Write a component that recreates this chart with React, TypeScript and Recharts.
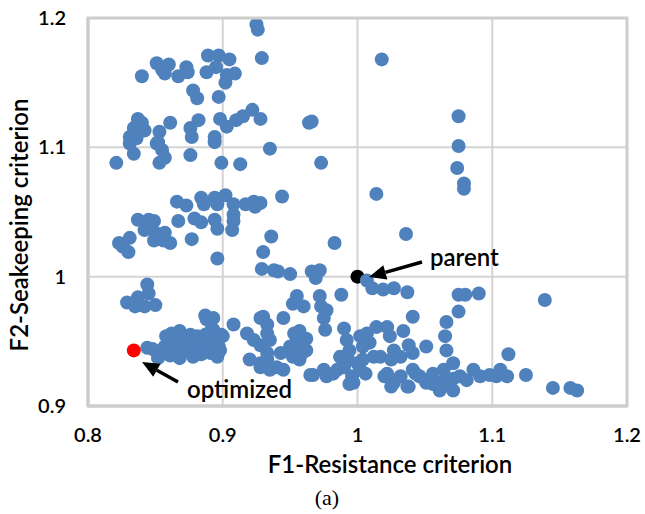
import React from 'react';
import { ScatterChart, Scatter, XAxis, YAxis, CartesianGrid } from 'recharts';

// [F1, F2] pairs, grouped by region
const upperSolutions = [
  [0.925, 1.195], [0.926, 1.191], [0.929, 1.169], [1.018, 1.168],
  [0.840, 1.155], [0.851, 1.165], [0.855, 1.160], [0.860, 1.164], [0.857, 1.157], [0.867, 1.155],
  [0.873, 1.162], [0.874, 1.158], [0.888, 1.158], [0.889, 1.171], [0.897, 1.171], [0.895, 1.162],
  [0.905, 1.168], [0.903, 1.156], [0.909, 1.157], [0.902, 1.150],
  [0.878, 1.144], [0.881, 1.138], [0.897, 1.139],
  [0.898, 1.122], [0.903, 1.116], [0.910, 1.121], [0.915, 1.124], [0.922, 1.129], [0.928, 1.122],
  [0.882, 1.121], [0.876, 1.115], [0.877, 1.108], [0.861, 1.119], [0.853, 1.112], [0.852, 1.104],
  [0.837, 1.122], [0.834, 1.115], [0.842, 1.113], [0.836, 1.107], [0.831, 1.108], [0.840, 1.119],
  [0.894, 1.108], [0.894, 1.104],
  [0.964, 1.119], [0.966, 1.120], [0.935, 1.099],
  [0.821, 1.088], [0.834, 1.095], [0.831, 1.103], [0.851, 1.103], [0.855, 1.098], [0.857, 1.092],
  [0.853, 1.088], [0.876, 1.094], [0.899, 1.088], [0.913, 1.087], [0.973, 1.088],
  [1.075, 1.124], [1.075, 1.101], [1.074, 1.084], [1.079, 1.072], [1.079, 1.068],
];

const middleSolutions = [
  [1.014, 1.064], [1.036, 1.033],
  [0.866, 1.058], [0.873, 1.055], [0.884, 1.061], [0.886, 1.056], [0.894, 1.061], [0.896, 1.056],
  [0.902, 1.063], [0.908, 1.056], [0.908, 1.048], [0.908, 1.043], [0.907, 1.036], [0.917, 1.056],
  [0.923, 1.058], [0.924, 1.054], [0.944, 1.062], [0.928, 1.057],
  [0.867, 1.043], [0.879, 1.045], [0.884, 1.042], [0.894, 1.044], [0.896, 1.037], [0.877, 1.029],
  [0.896, 1.014],
  [0.837, 1.044], [0.845, 1.044], [0.849, 1.043], [0.842, 1.036], [0.850, 1.034], [0.857, 1.034],
  [0.856, 1.028], [0.861, 1.026], [0.849, 1.028], [0.823, 1.026], [0.831, 1.030], [0.830, 1.019],
  [0.826, 1.023],
  [0.936, 1.031], [0.930, 1.019], [0.983, 1.026],
  [0.929, 1.006], [0.938, 1.005], [0.941, 1.004], [0.950, 1.002], [0.966, 1.004], [0.972, 1.005],
  [0.969, 0.999],
];

const lowerSolutions = [
  [1.007, 0.997], [1.011, 0.991], [1.019, 0.990], [1.027, 0.991], [1.037, 0.988],
  [1.075, 0.986], [1.080, 0.986], [1.090, 0.987], [1.139, 0.982],
  [0.844, 0.994], [0.845, 0.987], [0.837, 0.984], [0.829, 0.980], [0.835, 0.977], [0.850, 0.978],
  [0.842, 0.977],
  [0.955, 0.985], [0.952, 0.979], [0.960, 0.977], [0.972, 0.985], [0.973, 0.977], [0.977, 0.974],
  [0.988, 0.986], [0.975, 0.968], [0.976, 0.959], [0.990, 0.960], [0.945, 0.968], [0.930, 0.969],
  [1.041, 0.969], [1.075, 0.973], [1.066, 0.965], [1.065, 0.954], [1.066, 0.943], [1.071, 0.933],
  [1.112, 0.940], [1.051, 0.946], [1.034, 0.958],
  [0.887, 0.970], [0.893, 0.968], [0.888, 0.967], [0.908, 0.963], [0.928, 0.968], [0.933, 0.963],
];

const denseSolutions = [
  [0.844, 0.945], [0.851, 0.942], [0.852, 0.937], [0.857, 0.946], [0.858, 0.954], [0.862, 0.956],
  [0.866, 0.951], [0.868, 0.958], [0.871, 0.943], [0.873, 0.949], [0.876, 0.955], [0.878, 0.938],
  [0.881, 0.954], [0.882, 0.943], [0.886, 0.950], [0.888, 0.945], [0.891, 0.941], [0.893, 0.949],
  [0.896, 0.938], [0.898, 0.943], [0.899, 0.955], [0.891, 0.958], [0.868, 0.937], [0.861, 0.939],
  [0.893, 0.959], [0.900, 0.954],
  [0.848, 0.944], [0.855, 0.941], [0.864, 0.946], [0.870, 0.952], [0.875, 0.945], [0.880, 0.948],
  [0.884, 0.940], [0.887, 0.955], [0.890, 0.946], [0.895, 0.952], [0.897, 0.946], [0.865, 0.940],
  [0.918, 0.956], [0.923, 0.951], [0.928, 0.947], [0.920, 0.936], [0.928, 0.933], [0.933, 0.936],
  [0.933, 0.956], [0.935, 0.951], [0.933, 0.941], [0.943, 0.941], [0.940, 0.930], [0.945, 0.928],
  [0.928, 0.930], [0.935, 0.928], [0.952, 0.938], [0.957, 0.936], [0.960, 0.943], [0.962, 0.943],
  [0.955, 0.951], [0.962, 0.952], [0.957, 0.958], [0.950, 0.946], [0.953, 0.956], [0.956, 0.948],
  [0.959, 0.941],
];

const bottomSolutions = [
  [0.965, 0.924], [0.967, 0.924], [0.975, 0.928], [0.982, 0.925], [0.985, 0.928], [0.977, 0.923],
  [0.990, 0.930], [0.993, 0.936], [0.996, 0.923], [0.997, 0.918], [0.994, 0.917], [1.000, 0.933],
  [1.002, 0.928], [0.987, 0.938], [0.992, 0.951], [0.994, 0.943], [1.007, 0.956], [1.009, 0.949],
  [1.012, 0.938], [1.004, 0.936], [1.002, 0.954], [1.004, 0.946], [1.014, 0.961], [1.022, 0.961],
  [1.024, 0.954], [1.027, 0.943], [1.032, 0.938], [1.017, 0.938], [1.025, 0.936], [1.038, 0.947],
  [1.041, 0.941], [1.006, 0.925],
  [1.022, 0.925], [1.027, 0.918], [1.032, 0.923], [1.037, 0.915], [1.041, 0.928], [1.046, 0.923],
  [1.051, 0.918], [1.056, 0.925], [1.061, 0.918], [1.066, 0.920], [1.020, 0.923], [1.025, 0.915],
  [1.038, 0.915], [1.043, 0.925], [1.050, 0.920], [1.056, 0.917], [1.061, 0.912], [1.066, 0.916],
  [1.071, 0.912], [1.064, 0.928], [1.071, 0.921], [1.076, 0.923], [1.081, 0.920], [1.086, 0.928],
  [1.091, 0.923], [1.098, 0.924], [1.103, 0.923], [1.106, 0.928], [1.111, 0.923], [1.125, 0.924],
  [1.145, 0.914], [1.158, 0.914], [1.163, 0.912],
];

const parentDesign = [[1.0, 1.0]];
const optimizedDesign = [[0.834, 0.943]];

const f1Ticks = [0.8, 0.9, 1, 1.1, 1.2];
const f2Ticks = [0.9, 1, 1.1, 1.2];

const toPoints = (pairs: number[][]) => pairs.map(([f1, f2]) => ({ f1, f2 }));

const allSolutions = toPoints([
  ...upperSolutions, ...middleSolutions, ...lowerSolutions, ...denseSolutions, ...bottomSolutions,
]);

const FONT = 'Lato, "Open Sans", sans-serif';
const GRID = '#d4d4d4';

const dot = (color: string) => (props: any) => (
  <circle cx={props.cx} cy={props.cy} r={7} fill={color} />
);

function Arrow({ x1, y1, x2, y2 }: { x1: number; y1: number; x2: number; y2: number }) {
  const a = Math.atan2(y2 - y1, x2 - x1);
  const len = 17;
  const hw = 7.5;
  const bx = x2 - len * Math.cos(a);
  const by = y2 - len * Math.sin(a);
  const px = -Math.sin(a) * hw;
  const py = Math.cos(a) * hw;
  return (
    <g>
      <line x1={x1} y1={y1} x2={bx} y2={by} stroke="#000" strokeWidth={3.5} />
      <polygon points={`${x2},${y2} ${bx + px},${by + py} ${bx - px},${by - py}`} fill="#000" />
    </g>
  );
}

export default function App() {
  const tickStyle = { fill: '#000', fontSize: 20, fontFamily: FONT, fontWeight: 600 };
  return (
    <div style={{ position: 'absolute', left: 0, top: 0, width: 645, height: 514, background: '#fff' }}>
      <ScatterChart width={645} height={514} margin={{ top: 18, right: 18, bottom: 0, left: 0 }}>
        <CartesianGrid stroke={GRID} strokeWidth={2} />
        <XAxis
          type="number"
          dataKey="f1"
          domain={[0.8, 1.2]}
          ticks={f1Ticks}
          tickFormatter={(v) => String(v)}
          height={108}
          tickLine={false}
          tickSize={0}
          tickMargin={22}
          axisLine={{ stroke: '#c8c8c8', strokeWidth: 3 }}
          tick={tickStyle}
          allowDataOverflow
        />
        <YAxis
          type="number"
          dataKey="f2"
          domain={[0.9, 1.2]}
          ticks={f2Ticks}
          tickFormatter={(v) => String(v)}
          width={88}
          tickLine={false}
          tickSize={0}
          tickMargin={22}
          axisLine={{ stroke: '#c8c8c8', strokeWidth: 3 }}
          tick={tickStyle}
          allowDataOverflow
        />
        <Scatter data={toPoints(parentDesign)} shape={dot('#000')} isAnimationActive={false} />
        <Scatter data={allSolutions} shape={dot('#4f81bd')} isAnimationActive={false} />
        <Scatter data={toPoints(optimizedDesign)} shape={dot('#ff0000')} isAnimationActive={false} />
      </ScatterChart>
      <svg
        width={645}
        height={514}
        style={{ position: 'absolute', left: 0, top: 0, pointerEvents: 'none' }}
      >
        <rect x={88} y={18} width={539} height={388} fill="none" stroke="#cdcdcd" strokeWidth={3} />
        <Arrow x1={422} y1={262} x2={369} y2={277} />
        <Arrow x1={178} y1={382} x2={142} y2={362} />
        <text x={430} y={266} fontSize={24} fontFamily={FONT} fontWeight={600} fill="#000">parent</text>
        <text x={187} y={398} fontSize={24} fontFamily={FONT} fontWeight={600} fill="#000">optimized</text>
        <text x={390} y={473} fontSize={24} fontFamily={FONT} fontWeight={600} fill="#000" textAnchor="middle">
          F1-Resistance criterion
        </text>
        <text
          x={0}
          y={0}
          fontSize={24}
          fontFamily={FONT}
          fontWeight={600}
          fill="#000"
          textAnchor="middle"
          transform="translate(28,225) rotate(-90)"
        >
          F2-Seakeeping criterion
        </text>
        <text x={327} y={505} fontSize={22} fontFamily='"Liberation Serif", serif' fill="#000" textAnchor="middle">
          (a)
        </text>
      </svg>
    </div>
  );
}
